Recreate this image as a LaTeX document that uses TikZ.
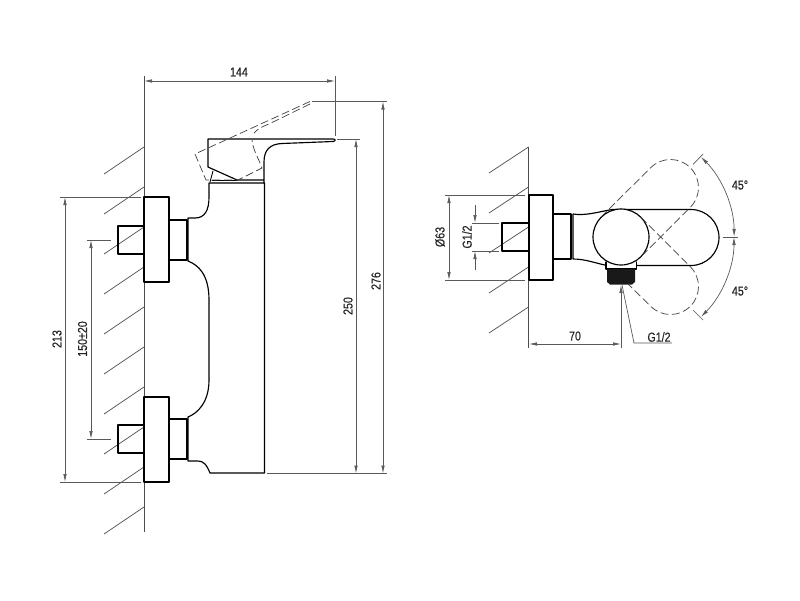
\documentclass[tikz,border=0pt]{standalone}
\usepackage{fontspec}
\setmainfont[FakeStretch=0.82,FakeBold=0.5]{Liberation Sans}
\usetikzlibrary{arrows.meta}
\tikzset{
  outline/.style={line width=1.15pt,black,line cap=round,line join=round},
  thinline/.style={line width=0.7pt,black!70},
  dimline/.style={line width=0.7pt,black!65},
  hidden/.style={line width=0.7pt,black!75,dash pattern=on 8pt off 3.5pt},
  dimtext/.style={font=\fontsize{13}{13}\selectfont,inner sep=0pt,text=black!85},
}
\begin{document}
\begin{tikzpicture}[x=1pt,y=-1pt,>={Latex[length=8pt,width=3.5pt]}]
    \useasboundingbox (0,0) rectangle (800,600);
    % Wand links
    \draw [thinline] (144,76) -- (144,532);
    \foreach \y in {174,214,...,534}
        \draw [thinline] (104,\y) -- (144,\y-27);
    % Rosetten links
    \draw [outline] (144,197) rectangle (169,282);
    \draw [outline] (144,397) rectangle (169,482);
    \draw [outline] (144,226) -- (118,226) -- (118,254) -- (144,254);
    \draw [outline] (144,425) -- (118,425) -- (118,453) -- (144,453);
    \draw [outline] (169,220) rectangle (187,260);
    \draw [outline] (169,419) rectangle (187,459);
    % Koerper
    \draw [outline] (188,218) -- (188,261) .. controls (198,265) and (209,274) .. (209,300)
        -- (209,380) .. controls (209,402) and (198,413) .. (188,417) -- (188,461)
        -- (197,461) .. controls (205,461) and (207,466) .. (210,473) -- (264.5,473)
        -- (264.5,183) -- (209,183) -- (209,197) .. controls (209,210) and (205,218) .. (195,218) -- cycle;
    % Hebel
    \draw [outline] (264,183) -- (264,162) .. controls (264,150) and (270,144) .. (282,143.5)
        -- (333,141.5) .. controls (336,141) and (336,139) .. (333,139) -- (208,139) -- (208,167)
        -- (237,180) -- (264,180);
    \draw [outline,line width=0.9pt] (213,171) -- (210,182);
    \draw [outline,line width=0.9pt] (212,180.5) -- (237,180.5);
    % Hebel gestrichelt
    \draw [hidden] (310,101.5) -- (195,154) -- (206,180) -- (238,180) -- (262,168)
        .. controls (258,157) and (253,150) .. (252,140);
    \draw [hidden] (310,104) -- (273,122) -- (262,127) .. controls (258,129) and (256,131) .. (254,133);
    % Masse Seitenansicht
    \draw [dimline] (335,76) -- (335,136);
    \draw [dimline,<->] (144,81) -- (335,81);
    \node (a144) [dimtext] at (239,72) {144};
    \draw [dimline] (312,101.5) -- (387,101.5);
    \draw [dimline] (337,139) -- (360,139);
    \draw [dimline] (267,473.5) -- (387,473.5);
    \draw [dimline,<->] (356,139) -- (356,473.5);
    \draw [dimline,<->] (383,101.5) -- (383,473.5);
    \node (a250) [dimtext,rotate=90] at (348,306) {250};
    \node (a276) [dimtext,rotate=90] at (376,281) {276};
    \draw [dimline] (60,197) -- (141,197);
    \draw [dimline] (60,482) -- (141,482);
    \draw [dimline,<->] (65,197) -- (65,482);
    \node (a213) [dimtext,rotate=90] at (57,339) {213};
    \draw [dimline] (87,240) -- (111,240);
    \draw [dimline] (87,439) -- (111,439);
    \draw [dimline,<->] (91,240) -- (91,439);
    \node (a150) [dimtext,rotate=90] at (82.5,339) {150±20};
    % Wand rechts
    \draw [thinline] (528.5,147) -- (528.5,348);
    \foreach \y in {173,213,...,333}
        \draw [thinline] (489,\y) -- (528.5,\y-26);
    % Rosette rechts
    \draw [outline] (529,195) rectangle (553,280);
    \draw [outline] (529,223) -- (502,223) -- (502,251) -- (529,251);
    \draw [outline] (553,214) rectangle (571,259);
    \draw [outline] (573,214) .. controls (585,216) and (598,212) .. (612,209.5) -- (691,209.5)
        arc (-90:90:28) -- (607,265.5) .. controls (595,263) and (585,259) .. (573,259) -- cycle;
    % Griff und Anschluss
    \draw [outline,fill=white] (606,262) -- (606,269) -- (636.5,269) -- (636.5,262);
    \draw [outline,fill=white] (621,237) circle (28);
    \fill [black!90] (607,269) -- (635,269) -- (635,282) -- (632,284.5) -- (610,284.5) -- (607,282) -- cycle;
    % Hebel gestrichelt rechts
    \draw [hidden] (601,217) -- (650.7,167.7) arc (225:405:28) -- (640.8,256.8);
    \draw [hidden] (640.8,217.2) -- (690.3,266.7) arc (-45:135:28) -- (628,284);
    % Winkel
    \draw [dimline] (693,164.5) -- (703,154);
    \draw [dimline] (693,310) -- (703,320);
    \draw [dimline] (723,237.5) -- (738,237.5);
    \draw [dimline,<->] (701,157) arc (-45:0:113);
    \draw [dimline,<->] (734,237) arc (0:45:113);
    \node (a45o) [dimtext] at (740,185) {45°};
    \node (a45u) [dimtext] at (740,291) {45°};
    % Masse rechts
    \draw [dimline] (445,195) -- (525,195);
    \draw [dimline] (445,280) -- (525,280);
    \draw [dimline,<->] (449,195) -- (449,280);
    \node (d63) [dimtext,rotate=90] at (440,237) {Ø63};
    \draw [dimline] (472,223) -- (499,223);
    \draw [dimline] (472,251) -- (499,251);
    \draw [dimline,->] (475,205) -- (475,223);
    \draw [dimline,->] (475,270) -- (475,251);
    \node (g12a) [dimtext,rotate=90] at (467,237) {G1/2};
    \draw [dimline,->] (621,348) -- (621,285);
    \draw [dimline,<->] (529,344) -- (621,344);
    \node (a70) [dimtext] at (575,336) {70};
    \draw [dimline] (622,285) -- (634,343) -- (672,343);
    \node (g12b) [dimtext] at (659,337) {G1/2};
\end{tikzpicture}
\end{document}
